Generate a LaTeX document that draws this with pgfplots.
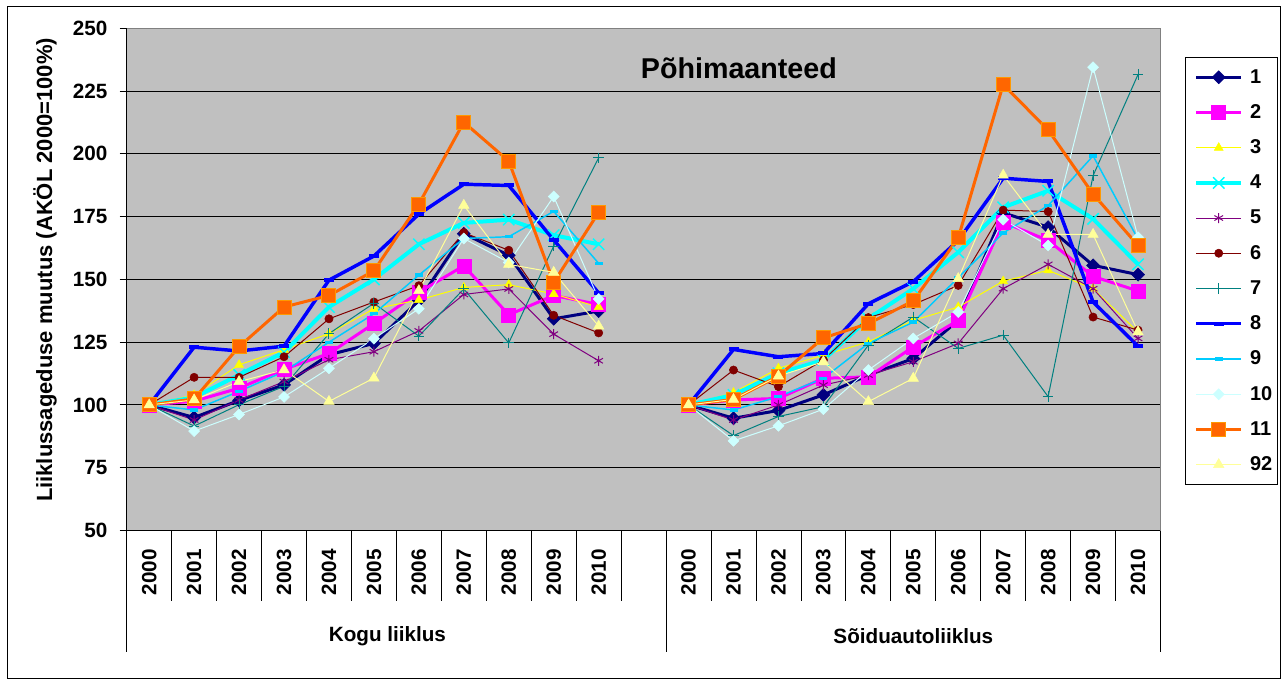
\documentclass[border=0pt]{standalone}
\usepackage{fontspec}
\setmainfont{Liberation Sans}
\usepackage{pgfplots}
\usepackage{pgfplotstable}
\pgfplotsset{compat=1.18}

\definecolor{c1}{RGB}{0,0,128}
\definecolor{c2}{RGB}{255,0,255}
\definecolor{c3}{RGB}{255,255,0}
\definecolor{c4}{RGB}{0,255,255}
\definecolor{c5}{RGB}{128,0,128}
\definecolor{c6}{RGB}{128,0,0}
\definecolor{c7}{RGB}{0,128,128}
\definecolor{c8}{RGB}{0,0,255}
\definecolor{c9}{RGB}{0,204,255}
\definecolor{c10}{RGB}{204,255,255}
\definecolor{c11}{RGB}{255,102,0}
\definecolor{c11b}{RGB}{255,153,0}
\definecolor{c92}{RGB}{255,255,153}
\definecolor{plotgray}{RGB}{192,192,192}

\newcommand\tickfont{\fontsize{15.5}{15.5}\selectfont\bfseries}

% x: 0-10 = Kogu liiklus 2000-2010, 12-22 = Soiduautoliiklus 2000-2010
\pgfplotstableread{
x  s1    s2    s3    s4    s5    s6    s7    s8    s9    s10   s11   s92
0  100   100   100   100   100   100   100   100   100   100   100   100
1  95    101.5 104   103   94    111   91.6  123   98    89.6  102.4 102
2  101.8 106.7 116   112   102   111   100.1 121.5 105.4 96.2  123.2 109.3
3  108   114.2 122   121   109.3 119.2 107.4 123.4 113.3 103.2 139   114
4  120   120.5 128.4 139   118   134.3 128.4 149.7 125   114.6 143.6 101.4
5  124.5 132.4 138.3 150   121.2 141   140.5 159.3 136.3 126.4 153.4 110.7
6  141.6 144.9 141.8 164   129.5 147.5 127.4 176   151.7 138.3 180   145.5
7  168.2 155.4 146.8 172.5 144   168.6 146.2 187.9 166.3 166.3 212.6 179.5
8  159.6 135.9 147.9 173.8 146.2 161.6 124.7 187.4 167   156.7 197.1 156
9  134.3 143.6 144.2 167.6 128.2 135.7 163.3 165.7 177.1 183   148.8 152.8
10 137.4 140   139   164   117.6 128.7 198.4 144.6 156.4 142.2 176.7 131.4
11 nan   nan   nan   nan   nan   nan   nan   nan   nan   nan   nan   nan
12 100   100   100   100   100   100   100   100   100   100   100   100
13 94.7  102   104.9 104   94    113.9 87.8  122.1 98    85.7  102.2 102.2
14 97.8  102.6 114.6 112.6 100   107.3 95.4  119.2 103.3 91.7  111.5 111.5
15 104   110.6 119.8 117.9 107.9 117.9 99.3  120.5 110.6 98.3  126.7 117.2
16 111.9 111.2 125.1 134.4 111.9 134.8 123.8 140.3 124.5 113.9 132.4 101.3
17 118.5 123.1 133.7 146.3 117.2 140   135   149.1 133   126.5 141.4 110.6
18 133.7 133.7 139   160.8 124.5 147.6 122.5 165.5 150.7 137   166.5 150.3
19 176.5 172.8 149.3 178.7 146.3 177.6 127.8 190.3 168.5 173.8 227.6 191.5
20 170.8 165.5 153.6 185.3 156   177   103.3 189   179.4 163.5 209.5 167.9
21 155.6 151.2 146.3 174.1 146.3 135   191.3 141   199.2 234.5 184   167.9
22 151.9 145.4 129   156   126.5 129.8 231.6 123.4 166   166.8 163.5 129.1
}\data

\pgfplotsset{
  ser1/.style={draw=c1, line width=2.25pt, mark=square*, mark size=3.45pt,
    mark options={solid, rotate=45, fill=c1, draw=c1, line width=0.4pt}},
  ser2/.style={draw=c2, line width=2.25pt, mark=square*, mark size=5.25pt,
    mark options={solid, fill=c2, draw=c2, line width=0.4pt}},
  ser3/.style={draw=c3, line width=0.75pt, mark=triangle*, mark size=3.8pt,
    mark options={solid, fill=c3, draw=c3, line width=0.4pt}},
  ser4/.style={draw=c4, line width=3pt, mark=x, mark size=6pt,
    mark options={solid, draw=c4, line width=1.1pt}},
  ser5/.style={draw=c5, line width=0.75pt, mark=asterisk, mark size=3.75pt,
    mark options={solid, draw=c5, line width=0.75pt}},
  ser6/.style={draw=c6, line width=0.75pt, mark=*, mark size=3.1pt,
    mark options={solid, fill=c6, draw=c6, line width=0.4pt}},
  ser7/.style={draw=c7, line width=0.75pt, mark=+, mark size=4pt,
    mark options={solid, draw=c7, line width=0.75pt}},
  ser8/.style={draw=c8, line width=2.6pt, mark=-, mark size=3.75pt,
    mark options={solid, draw=c8, line width=3pt}},
  ser9/.style={draw=c9, line width=1.1pt, mark=-, mark size=3pt,
    mark options={solid, draw=c9, line width=2.5pt}},
  ser10/.style={draw=c10, line width=0.75pt, mark=square*, mark size=2.9pt,
    mark options={solid, rotate=45, fill=c10, draw=c10, line width=0.4pt}},
  ser11/.style={draw=c11, line width=2.25pt, mark=square*, mark size=5.25pt,
    mark options={solid, fill=c11, draw=c11b, line width=0.75pt}},
  ser92/.style={draw=c92, line width=0.75pt, mark=triangle*, mark size=4.5pt,
    mark options={solid, fill=c92, draw=c92, line width=0.4pt}},
}

\begin{document}
\begin{tikzpicture}
\begin{scope}[x=0.75pt,y=0.75pt]
\useasboundingbox (-126.7,-151.5) rectangle (1158.3,530.5);
\end{scope}
\begin{axis}[
    at={(0,0)}, anchor=south west,
    scale only axis, width=775.35pt, height=376.65pt,
    xmin=-0.5, xmax=22.5, ymin=50, ymax=250,
    clip=false,
    unbounded coords=jump,
    axis x line*=bottom, axis y line*=left,
    axis line style={-, black, line width=0.75pt},
    axis background/.style={fill=plotgray},
    xtick={0,1,2,3,4,5,6,7,8,9,10,12,13,14,15,16,17,18,19,20,21,22},
    xticklabels={2000,2001,2002,2003,2004,2005,2006,2007,2008,2009,2010,
                 2000,2001,2002,2003,2004,2005,2006,2007,2008,2009,2010},
    xtick align=inside, xtick style={draw=none},
    xticklabel style={rotate=90, anchor=east, inner sep=0pt, font=\tickfont},
    xticklabel shift=14pt,
    ytick={50,75,...,250}, ytick align=outside, major tick length=5.25pt,
    ytick style={black, line width=0.75pt},
    yticklabel style={font=\tickfont, inner sep=0pt, anchor=east},
    yticklabel shift=9pt,
    /pgf/number format/assume math mode=true,
    ymajorgrids, major grid style={black, line width=0.75pt},
    legend cell align=left,
    legend style={at={(1.0237,0.9429)}, anchor=north west, draw=black,
        line width=0.6pt, fill=white,
        font=\fontsize{15}{15}\selectfont\bfseries,
        nodes={inner xsep=1pt},
        inner xsep=2.5pt, inner ysep=7pt, row sep=10.5pt, column sep=4pt},
    legend image code/.code={
        \path (-4pt,0pt);
        \draw[mark repeat=2,mark phase=2,#1] plot coordinates {(0pt,0pt) (17pt,0pt) (34pt,0pt)};},
]
\addplot[ser1]  table[x=x,y=s1]  {\data};  \addlegendentry{1}
\addplot[ser2]  table[x=x,y=s2]  {\data};  \addlegendentry{2}
\addplot[ser3]  table[x=x,y=s3]  {\data};  \addlegendentry{3}
\addplot[ser4]  table[x=x,y=s4]  {\data};  \addlegendentry{4}
\addplot[ser5]  table[x=x,y=s5]  {\data};  \addlegendentry{5}
\addplot[ser6]  table[x=x,y=s6]  {\data};  \addlegendentry{6}
\addplot[ser7]  table[x=x,y=s7]  {\data};  \addlegendentry{7}
\addplot[ser8]  table[x=x,y=s8]  {\data};  \addlegendentry{8}
\addplot[ser9]  table[x=x,y=s9]  {\data};  \addlegendentry{9}
\addplot[ser10] table[x=x,y=s10] {\data};  \addlegendentry{10}
\addplot[ser11] table[x=x,y=s11] {\data};  \addlegendentry{11}
\addplot[ser92] table[x=x,y=s92] {\data};  \addlegendentry{92}

% plot area border and category separators
\draw[gray, line width=0.75pt] (rel axis cs:0,1) -- (rel axis cs:1,1) -- (rel axis cs:1,0);
\pgfplotsinvokeforeach{0.5,1.5,...,10.5}{\draw[black, line width=0.6pt] (axis cs:#1,50) -- ([yshift=-52.5pt]axis cs:#1,50);}
\pgfplotsinvokeforeach{12.5,13.5,...,21.5}{\draw[black, line width=0.6pt] (axis cs:#1,50) -- ([yshift=-52.5pt]axis cs:#1,50);}
\pgfplotsinvokeforeach{-0.5,11.5,22.5}{\draw[black, line width=0.75pt] (axis cs:#1,50) -- ([yshift=-90.75pt]axis cs:#1,50);}

\node[font=\fontsize{21.5}{21.5}\selectfont\bfseries] at (axis cs:13.12,234.2) {Põhimaanteed};
\node[font=\fontsize{15.5}{15.5}\selectfont\bfseries, yshift=-79pt] at (axis cs:5.3,50) {Kogu liiklus};
\node[font=\fontsize{15.5}{15.5}\selectfont\bfseries, yshift=-79pt] at (axis cs:17,50) {Sõiduautoliiklus};
\end{axis}
\begin{scope}[x=0.75pt,y=0.75pt]
\draw[black, line width=0.75pt] (-118.7,-147.5) rectangle (1153.3,523.5);
\node[rotate=90, font=\fontsize{16.5}{16.5}\selectfont\bfseries] at (-81.7,260.5)
    {Liiklussageduse muutus (AKÖL 2000=100\%)};
\end{scope}
\end{tikzpicture}
\end{document}
